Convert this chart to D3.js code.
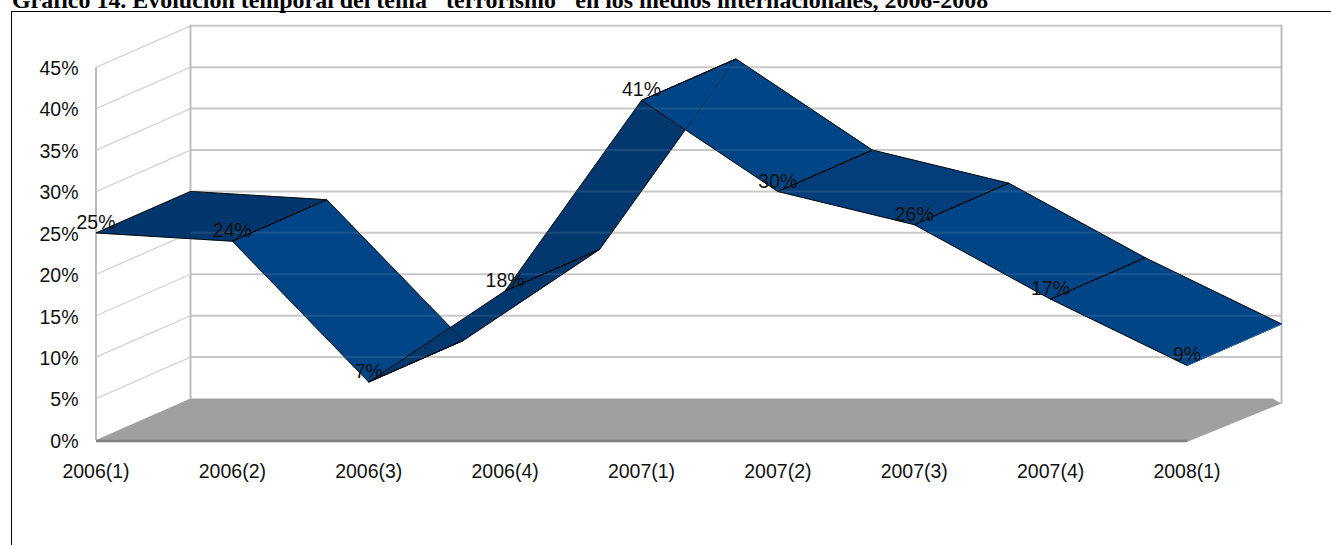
<!DOCTYPE html>
<html lang="es">
<head>
  <meta charset="UTF-8">
  <title>Evolución temporal del tema terrorismo</title>
  <script src="https://cdn.jsdelivr.net/npm/d3@7"></script>
  <style>
    html, body { margin: 0; padding: 0; background: #fff; overflow: hidden; }
    text { font-family: "Liberation Sans", sans-serif; }
  </style>
</head>
<body>
  <svg id="chart" width="1331" height="545"></svg>
  <script>
    const categories = ['2006(1)', '2006(2)', '2006(3)', '2006(4)', '2007(1)', '2007(2)', '2007(3)', '2007(4)', '2008(1)']
    const values = [25, 24, 7, 18, 41, 30, 26, 17, 9]
    const yTicks = [0, 5, 10, 15, 20, 25, 30, 35, 40, 45]
    const ribbonColors = ['#03366d', '#004586', '#03386f', '#03386f', '#004586', '#033e7a', '#004586', '#004586']

    const title = 'Gráfico 14. Evolución temporal del tema "terrorismo" en los medios internacionales, 2006-2008'

    const svg = d3.select('#chart')

    // depth of the fake 3d box
    const depth = { x: 94.5, y: -41.5 }

    const x = d3.scalePoint().domain(categories).range([96, 1187])
    const y = d3.scaleLinear().domain([0, 45]).range([440, 67.3])
    const back = ([a, b]) => [a + depth.x, b + depth.y]

    svg.append('line')
      .attr('x1', 11.5).attr('x2', 11.5).attr('y1', 11).attr('y2', 545)
      .attr('stroke', '#000')
    svg.append('line')
      .attr('x1', 11).attr('x2', 1331).attr('y1', 11.5).attr('y2', 11.5)
      .attr('stroke', '#000')

    svg.append('text')
      .attr('x', 12).attr('y', 7.5)
      .style('font-family', '"Liberation Serif", serif')
      .style('font-weight', 'bold')
      .style('font-size', '23.95px')
      .text(title)

    const gridColor = '#c8c8c8'
    const x0 = x.range()[0]
    const x1 = x.range()[1]

    // side wall
    svg.selectAll('.side').data(yTicks.slice(1)).enter().append('line')
      .attr('class', 'side')
      .attr('x1', x0).attr('y1', d => y(d))
      .attr('x2', x0 + depth.x).attr('y2', d => y(d) + depth.y)
      .attr('stroke', '#d4d4d4')
      .attr('stroke-width', 1.3)

    // back wall
    svg.selectAll('.grid').data(yTicks.slice(1)).enter().append('line')
      .attr('class', 'grid')
      .attr('x1', x0 + depth.x).attr('x2', x1 + depth.x)
      .attr('y1', d => y(d) + depth.y).attr('y2', d => y(d) + depth.y)
      .attr('stroke', gridColor)
      .attr('stroke-width', 2)

    const wallX = [x0, x0 + depth.x, x1 + depth.x]
    const wallTop = [y(45), y(45) + depth.y - 1, y(45) + depth.y - 1]
    const wallBottom = [y(0), y(0) + depth.y, y(0) + depth.y + 5]
    svg.selectAll('.wall').data(wallX).enter().append('line')
      .attr('class', 'wall')
      .attr('x1', d => d).attr('x2', d => d)
      .attr('y1', (d, i) => wallTop[i]).attr('y2', (d, i) => wallBottom[i])
      .attr('stroke', '#bdbdbd')
      .attr('stroke-width', 2)

    // floor
    const floor = [[x0, y(0)], back([x0, y(0)]), [x1 + depth.x - 9, y(0) + depth.y], [x1 + depth.x, y(0) + depth.y + 5], [x1, y(0) + 2]]
    svg.append('polygon')
      .attr('points', floor.join(' '))
      .attr('fill', '#a0a0a0')
    svg.append('line')
      .attr('x1', x0).attr('x2', x1)
      .attr('y1', y(0) + 1).attr('y2', y(0) + 1)
      .attr('stroke', '#808080')
      .attr('stroke-width', 2.5)

    // axis labels
    const yAxis = d3.axisLeft(y).tickValues(yTicks).tickSize(0).tickPadding(0).tickFormat(d => d + '%')
    const yG = svg.append('g').attr('transform', 'translate(78.5,1)').call(yAxis)
    const xAxis = d3.axisBottom(x).tickSize(0).tickPadding(0)
    const xG = svg.append('g').attr('transform', 'translate(-0.5,464)').call(xAxis)
    yG.select('.domain').remove()
    xG.select('.domain').remove()
    svg.selectAll('.tick text')
      .style('font-family', '"Liberation Sans", sans-serif')
      .style('font-size', '19.5px')
      .attr('fill', '#111')

    // ribbon, one face per step, later faces over earlier ones
    const front = values.map((v, i) => [x(categories[i]), y(v)])
    const faces = d3.pairs(front).map(([a, b], i) => ({ a, b, color: ribbonColors[i] }))
    const facePoints = d => [d.a, d.b, back(d.b), back(d.a)].join(' ')

    svg.selectAll('.face').data(faces).enter().append('polygon')
      .attr('class', 'face')
      .attr('points', facePoints)
      .attr('fill', d => d.color)
      .attr('stroke', '#050c16')
      .attr('stroke-width', 1)
      .attr('stroke-linejoin', 'round')

    // the ribbon is slightly see-through: grid and hidden edges show faintly
    svg.selectAll('.ghost').data(faces).enter().append('polygon')
      .attr('class', 'ghost')
      .attr('points', facePoints)
      .attr('fill', 'none')
      .attr('stroke', '#050c16')
      .attr('stroke-opacity', 0.3)
    svg.append('clipPath').attr('id', 'ribbon-clip')
      .selectAll('polygon').data(faces).enter().append('polygon')
      .attr('points', facePoints)
    svg.append('g').attr('clip-path', 'url(#ribbon-clip)')
      .selectAll('line').data(yTicks.slice(1)).enter().append('line')
      .attr('x1', x0 + depth.x).attr('x2', x1 + depth.x)
      .attr('y1', d => y(d) + depth.y).attr('y2', d => y(d) + depth.y)
      .attr('stroke', '#fff')
      .attr('stroke-opacity', 0.1)
      .attr('stroke-width', 2)

    // dotted joints between the faces
    svg.selectAll('.joint').data(front.slice(1, -1)).enter().append('line')
      .attr('class', 'joint')
      .attr('x1', d => d[0]).attr('y1', d => d[1])
      .attr('x2', d => back(d)[0]).attr('y2', d => back(d)[1])
      .attr('stroke', '#000')
      .attr('stroke-width', 1)
      .attr('stroke-dasharray', '2 2')

    // closing edge of the last face is blue in the original, not black
    const last = front[front.length - 1]
    svg.append('line')
      .attr('x1', last[0]).attr('y1', last[1])
      .attr('x2', back(last)[0]).attr('y2', back(last)[1])
      .attr('stroke', '#1f63ad')
      .attr('stroke-width', 1.2)

    svg.selectAll('.value').data(values).enter().append('text')
      .attr('class', 'value')
      .attr('x', (d, i) => x(categories[i]))
      .attr('y', d => y(d) - 4)
      .attr('text-anchor', 'middle')
      .style('font-size', '19.5px')
      .attr('fill', '#111')
      .text(d => d + '%')
  </script>
</body>
</html>
